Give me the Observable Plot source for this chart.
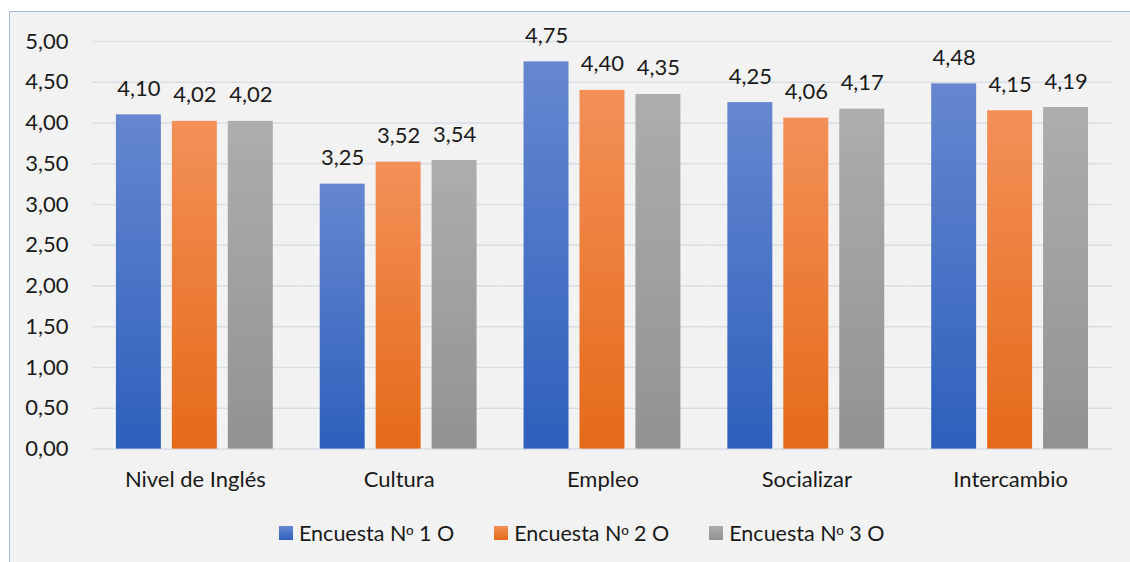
<!DOCTYPE html>
<html>
<head>
<meta charset="utf-8">
<script src="https://cdn.jsdelivr.net/npm/d3@7"></script>
<script src="https://cdn.jsdelivr.net/npm/@observablehq/plot@0.6"></script>
<style>
  html, body { margin: 0; padding: 0; background: #ffffff; }
  #frame {
    position: absolute; left: 9px; top: 11px; width: 1121px; height: 551px;
    background: #f2f2f2; border-top: 1.5px solid #a8b8dc; border-left: 1.5px solid #a8b8dc;
    box-sizing: border-box; overflow: hidden;
    font-family: Lato, "Open Sans", sans-serif;
  }
  #chart svg { display: block; }
  #legend {
    position: absolute; left: 269px; top: 508px; display: flex; gap: 40px;
    font-size: 21.5px; color: #1a1a1a; white-space: nowrap;
  }
  #legend .item { display: flex; align-items: center; gap: 6px; }
  #legend .sw { width: 14px; height: 14px; display: inline-block; }
  #legend .ord { font-family: "Liberation Sans", "DejaVu Sans", sans-serif; font-size: 0.9em; }
</style>
</head>
<body>
<div id="frame">
  <div id="chart"></div>
  <div id="legend"></div>
</div>
<script>
// Survey categories and average scores per survey round
const categories = ["Nivel de Inglés", "Cultura", "Empleo", "Socializar", "Intercambio"];
const series = ["Encuesta Nº 1 O", "Encuesta Nº 2 O", "Encuesta Nº 3 O"];
const encuesta1 = [4.10, 3.25, 4.75, 4.25, 4.48];
const encuesta2 = [4.02, 3.52, 4.40, 4.06, 4.15];
const encuesta3 = [4.02, 3.54, 4.35, 4.17, 4.19];
const yTicks = [0, 0.5, 1, 1.5, 2, 2.5, 3, 3.5, 4, 4.5, 5];

// Gradient stops (top, bottom) for each survey
const gradients = [
  {id: "g1", top: "#6687cf", bottom: "#2d60bc"},
  {id: "g2", top: "#f39058", bottom: "#e56a18"},
  {id: "g3", top: "#adadad", bottom: "#929292"}
];

const values = [encuesta1, encuesta2, encuesta3];
const rows = [];
categories.forEach((c, i) => {
  series.forEach((s, j) => rows.push({categoria: c, serie: s, valor: values[j][i]}));
});

const fmt = d => d.toFixed(2).replace(".", ",");
const fillOf = d => `url(#${gradients[series.indexOf(d.serie)].id})`;

const chart = Plot.plot({
  width: 1121,
  height: 490,
  marginLeft: 82,
  marginRight: 17,
  marginTop: 29,
  marginBottom: 53,
  style: {fontFamily: "Lato, 'Open Sans', sans-serif", fontSize: "22px", color: "#1a1a1a", background: "transparent"},
  fx: {domain: categories, padding: 0, label: null},
  x: {domain: series, paddingInner: 0.19, paddingOuter: 0.4, axis: null},
  y: {domain: [0, 5], label: null},
  marks: [
    Plot.ruleY(yTicks, {stroke: "#d9dee6", strokeWidth: 1.5}),
    Plot.axisY({ticks: yTicks, tickSize: 0, tickPadding: 25, tickFormat: fmt, label: null, fontSize: 22, fill: "#1a1a1a"}),
    Plot.axisFx({anchor: "bottom", tickSize: 0, tickPadding: 22, label: null, fontSize: 22, fill: "#1a1a1a"}),
    Plot.barY(rows, {fx: "categoria", x: "serie", y: "valor", fill: fillOf}),
    Plot.text(rows, {fx: "categoria", x: "serie", y: "valor", text: d => fmt(d.valor),
      lineAnchor: "bottom", dy: -19, fontSize: 22, fill: "#1a1a1a"})
  ]
});

// Vertical gradient definitions used by the bars
const defs = d3.select(chart).insert("defs", ":first-child");
gradients.forEach(g => {
  const lg = defs.append("linearGradient").attr("id", g.id)
    .attr("x1", 0).attr("y1", 0).attr("x2", 0).attr("y2", 1);
  lg.append("stop").attr("offset", "0%").attr("stop-color", g.top);
  lg.append("stop").attr("offset", "100%").attr("stop-color", g.bottom);
});

document.getElementById("chart").appendChild(chart);

// Legend below the plot
const legend = d3.select("#legend");
series.forEach((s, j) => {
  const item = legend.append("div").attr("class", "item");
  item.append("span").attr("class", "sw")
    .style("background", `linear-gradient(${gradients[j].top}, ${gradients[j].bottom})`);
  const label = item.append("span");
  s.split("º").forEach((part, k) => {
    if (k > 0) label.append("span").attr("class", "ord").text("º");
    label.append("span").text(part);
  });
});
</script>
</body>
</html>
